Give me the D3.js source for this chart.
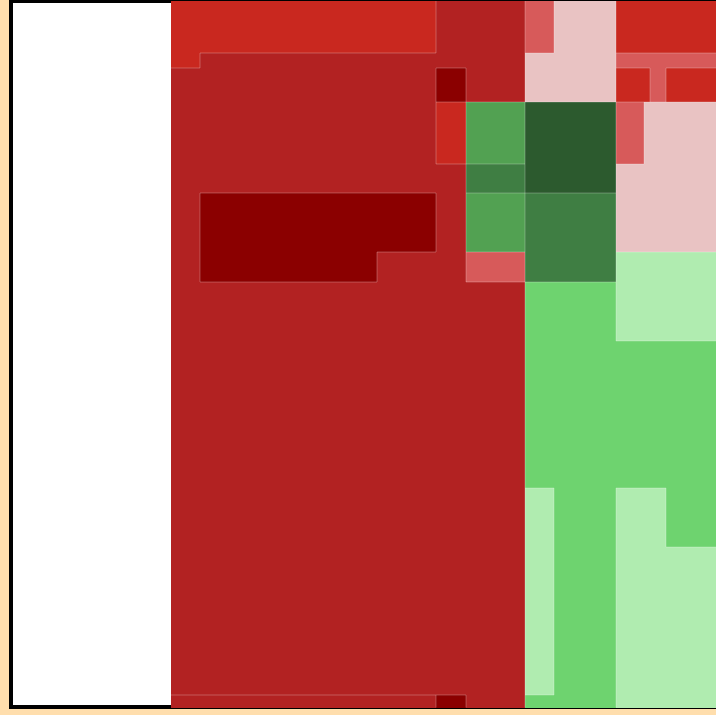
<!DOCTYPE html>
<html>
<head>
<meta charset="utf-8">
<script src="https://cdn.jsdelivr.net/npm/d3@7"></script>
<style>
  html, body { margin: 0; padding: 0; background: #ffdead; }
  svg { display: block; }
</style>
</head>
<body>
<svg id="chart" width="716" height="715"></svg>
<script>
// ---- data ----
// column edges (x data units) and row edges (y data units) of the variable grid
const xEdges = [0, 29, 206, 265, 295, 354, 383, 445, 473, 479, 495, 600];
const yEdges = [0, 52, 67, 101, 163, 192, 251, 281, 340, 487, 546, 694, 706.5];
// level of each cell: negative = red shades, positive = green shades
const levels = [
  [-3,-3,-3,-4,-4,-2,-1,-3,-3,-3,-3],
  [-3,-4,-4,-4,-4,-1,-1,-2,-2,-2,-2],
  [-4,-4,-4,-5,-4,-1,-1,-3,-3,-2,-3],
  [-4,-4,-4,-3, 3, 5, 5,-2,-1,-1,-1],
  [-4,-4,-4,-4, 4, 5, 5,-1,-1,-1,-1],
  [-4,-5,-5,-4, 3, 4, 4,-1,-1,-1,-1],
  [-4,-5,-4,-4,-2, 4, 4, 1, 1, 1, 1],
  [-4,-4,-4,-4,-4, 2, 2, 1, 1, 1, 1],
  [-4,-4,-4,-4,-4, 2, 2, 2, 2, 2, 2],
  [-4,-4,-4,-4,-4, 1, 2, 1, 1, 1, 2],
  [-4,-4,-4,-4,-4, 1, 2, 1, 1, 1, 1],
  [-4,-4,-4,-5,-4, 2, 2, 1, 1, 1, 1]
];
const levelDomain = [-5, -4, -3, -2, -1, 1, 2, 3, 4, 5];
const levelColors = ["#8b0000", "#b22222", "#c9281f", "#d75a5a", "#e9c3c3",
                     "#b0ecb0", "#6ed36f", "#52a152", "#3f7e43", "#2c5a2e"];
// row 11 has a visible separator along its top over the first three columns
const separatorRow = 11;
const separatorCols = [0, 1, 2];

// ---- drawing ----
const svg = d3.select("#chart");
const x = d3.scaleLinear().domain([0, 545]).range([171, 716]);
const y = d3.scaleLinear().domain([0, 706.5]).range([1, 707.5]);
const color = d3.scaleOrdinal().domain(levelDomain).range(levelColors);

// plot frame
svg.append("rect")
  .attr("x", 11).attr("y", 1)
  .attr("width", 900).attr("height", 706)
  .attr("fill", "#ffffff")
  .attr("stroke", "#000000")
  .attr("stroke-width", 4);

const cells = [];
levels.forEach((row, ri) => row.forEach((v, ci) => cells.push({ri, ci, v})));

svg.append("g").selectAll("rect")
  .data(cells)
  .join("rect")
  .attr("x", d => x(xEdges[d.ci]))
  .attr("y", d => y(yEdges[d.ri]))
  .attr("width", d => x(xEdges[d.ci + 1]) - x(xEdges[d.ci]))
  .attr("height", d => y(yEdges[d.ri + 1]) - y(yEdges[d.ri]))
  .attr("fill", d => color(d.v))
  .attr("shape-rendering", "crispEdges");

// boundaries between cells with different levels
const segs = [];
levels.forEach((row, ri) => row.forEach((v, ci) => {
  if (ci + 1 < row.length && row[ci + 1] !== v) {
    segs.push({x1: xEdges[ci + 1], x2: xEdges[ci + 1], y1: yEdges[ri], y2: yEdges[ri + 1]});
  }
  const sep = ri === separatorRow && separatorCols.includes(ci);
  if (ri > 0 && (levels[ri - 1][ci] !== v || sep)) {
    segs.push({x1: xEdges[ci], x2: xEdges[ci + 1], y1: yEdges[ri], y2: yEdges[ri]});
  }
}));

svg.append("g").selectAll("line")
  .data(segs)
  .join("line")
  .attr("x1", d => x(d.x1)).attr("x2", d => x(d.x2))
  .attr("y1", d => y(d.y1)).attr("y2", d => y(d.y2))
  .attr("stroke", "#ffffff")
  .attr("stroke-opacity", 0.25)
  .attr("stroke-width", 1);
</script>
</body>
</html>
